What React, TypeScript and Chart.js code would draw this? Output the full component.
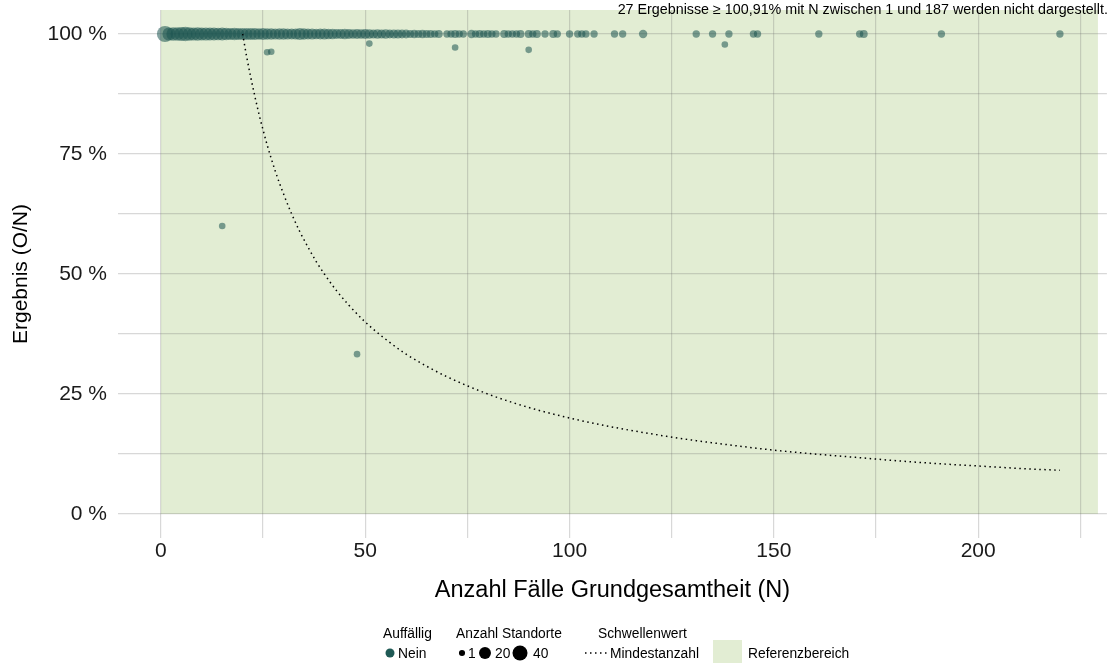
import React, { useEffect, useRef } from 'react';
import { Chart, registerables } from 'chart.js';

Chart.register(...registerables);

const FONT = '"Liberation Sans", Arial, Helvetica, sans-serif';

// Results at 100 %: N and number of sites (Anzahl Standorte)
const N_AT_100 = [
  1, 2, 3, 4, 5, 6, 7, 8, 9, 10, 11, 12, 13, 14, 15, 16, 17, 18, 19, 20,
  21, 22, 23, 24, 25, 26, 27, 28, 29, 30, 31, 32, 33, 34, 35, 36, 37, 38, 39, 40,
  41, 42, 43, 44, 45, 46, 47, 48, 49, 50, 51, 52, 53, 54, 55, 56, 57, 58, 59, 60,
  61, 62, 63, 64, 65, 66, 67, 68, 70, 71, 72, 73, 74, 76, 77, 78, 79, 80, 81, 82,
  84, 85, 86, 87, 88, 90, 91, 92, 94, 96, 97, 100, 102, 103, 104, 106, 111, 113, 118,
  131, 135, 139, 145, 146, 161, 171, 172, 191, 220,
];
const COUNT_AT_100 = [
  40, 22, 24, 23, 25, 28, 24, 22, 23, 21, 22, 20, 21, 19, 20, 18, 17, 18, 16, 17,
  15, 16, 15, 14, 15, 13, 14, 12, 13, 14, 12, 11, 12, 16, 13, 11, 12, 10, 11, 12,
  10, 10, 8, 9, 10, 8, 7, 8, 7, 9, 7, 6, 7, 6, 7, 5, 6, 6, 5, 5,
  3, 4, 3, 4, 3, 3, 2, 3, 2, 2, 3, 2, 2, 4, 2, 3, 2, 3, 2, 2,
  3, 2, 2, 2, 3, 3, 2, 3, 2, 3, 2, 2, 2, 2, 2, 2, 2, 2, 4,
  2, 2, 2, 2, 2, 2, 2, 3, 2, 2,
];

// Results below 100 %
const N_BELOW = [15, 48, 26, 27, 51, 72, 90, 138];
const RESULT_BELOW = [60.0, 33.3, 96.2, 96.3, 98.0, 97.2, 96.7, 97.8];
const COUNT_BELOW = [1, 1, 1, 1, 1, 1, 1, 1];

// Schwellenwert: Mindestanzahl
const THRESHOLD_N = [
  20, 21, 22, 23, 24, 25, 26, 28, 30, 32, 34, 36, 38, 40, 43, 46, 50, 55, 60, 65,
  70, 80, 90, 100, 110, 120, 130, 140, 150, 160, 170, 180, 190, 200, 210, 220,
];
const THRESHOLD_RESULT = [
  100, 95.2, 90.9, 87.0, 83.3, 80.0, 76.9, 71.4, 66.7, 62.5, 58.8, 55.6, 52.6, 50.0, 46.5, 43.5, 40.0, 36.4, 33.3, 30.8,
  28.6, 25.0, 22.2, 20.0, 18.2, 16.7, 15.4, 14.3, 13.3, 12.5, 11.8, 11.1, 10.5, 10.0, 9.5, 9.1,
];

// Referenzbereich
const REF_X = [0, 229.3];
const REF_Y = [0, 105];

const X_TICKS = [0, 25, 50, 75, 100, 125, 150, 175, 200, 225];
const X_LABELLED = [0, 50, 100, 150, 200];
const Y_TICKS = [0, 12.5, 25, 37.5, 50, 62.5, 75, 87.5, 100];
const Y_LABELLED = [0, 25, 50, 75, 100];

const X_LIMITS = [-10.5, 231.5];
const Y_LIMITS = [-5, 105];

const LEGEND_SIZES = [1, 20, 40];
const ANNOTATION = '27 Ergebnisse \u2265 100,91% mit N zwischen 1 und 187 werden nicht dargestellt.';

const POINT_COLOR = 'rgba(27, 83, 80, 0.55)';
const REF_COLOR = '#e2edd3';
const GRID_COLOR = 'rgba(110, 110, 110, 0.27)';

const radiusFor = (c: number) => 2.4 + 0.9 * Math.sqrt(c);

const refAreaPlugin = {
  id: 'refArea',
  beforeDraw(chart: any) {
    const { ctx, scales } = chart;
    const x = scales.x, y = scales.y;
    const x0 = x.getPixelForValue(REF_X[0]);
    const x1 = x.getPixelForValue(REF_X[1]);
    const y0 = y.getPixelForValue(REF_Y[1]);
    const y1 = y.getPixelForValue(REF_Y[0]);
    ctx.save();
    ctx.fillStyle = REF_COLOR;
    ctx.fillRect(x0, y0, x1 - x0, y1 - y0);
    ctx.restore();
  },
};

const overlayPlugin = {
  id: 'overlay',
  afterDraw(chart: any) {
    const { ctx, chartArea } = chart;
    ctx.save();
    // annotation
    ctx.fillStyle = '#000';
    ctx.font = `14.3px ${FONT}`;
    ctx.textAlign = 'right';
    ctx.textBaseline = 'alphabetic';
    ctx.fillText(ANNOTATION, chartArea.right + 1, 14);

    // legend
    ctx.font = `13.8px ${FONT}`;
    ctx.textAlign = 'left';
    const titleY = 638;
    const itemY = 658;
    const midY = 653;
    ctx.fillText('Auffällig', 383, titleY);
    ctx.fillText('Anzahl Standorte', 456, titleY);
    ctx.fillText('Schwellenwert', 598, titleY);

    ctx.fillStyle = '#1f5a55';
    ctx.beginPath();
    ctx.arc(390, midY, 4.5, 0, Math.PI * 2);
    ctx.fill();
    ctx.fillStyle = '#000';
    ctx.fillText('Nein', 398, itemY);

    const sizeX = [462, 485, 520];
    const labelX = [468, 495, 533];
    LEGEND_SIZES.forEach((s, i) => {
      ctx.fillStyle = '#000';
      ctx.beginPath();
      ctx.arc(sizeX[i], midY, radiusFor(s) * 0.93, 0, Math.PI * 2);
      ctx.fill();
      ctx.fillText(String(s), labelX[i], itemY);
    });

    ctx.strokeStyle = '#000';
    ctx.lineWidth = 1.5;
    ctx.setLineDash([1.5, 3.5]);
    ctx.beginPath();
    ctx.moveTo(585, midY);
    ctx.lineTo(610, midY);
    ctx.stroke();
    ctx.setLineDash([]);
    ctx.fillText('Mindestanzahl', 610, itemY);

    ctx.fillStyle = REF_COLOR;
    ctx.fillRect(713, 640, 29, 23);
    ctx.fillStyle = '#000';
    ctx.fillText('Referenzbereich', 748, itemY);
    ctx.restore();
  },
};

export default function App() {
  const canvasRef = useRef<HTMLCanvasElement | null>(null);

  useEffect(() => {
    if (!canvasRef.current) return;
    const points = [
      ...N_AT_100.map((n, i) => ({ x: n, y: 100, c: COUNT_AT_100[i] })),
      ...N_BELOW.map((n, i) => ({ x: n, y: RESULT_BELOW[i], c: COUNT_BELOW[i] })),
    ];
    const line = THRESHOLD_N.map((n, i) => ({ x: n, y: THRESHOLD_RESULT[i] }));

    const chart = new Chart(canvasRef.current, {
      type: 'scatter',
      data: {
        datasets: [
          {
            type: 'line',
            label: 'Mindestanzahl',
            data: line,
            borderColor: '#000',
            borderWidth: 1.5,
            borderDash: [1.5, 3.5],
            pointRadius: 0,
            fill: false,
            cubicInterpolationMode: 'monotone',
          } as any,
          {
            label: 'Nein',
            data: points as any,
            backgroundColor: POINT_COLOR,
            borderWidth: 0,
            pointRadius: (ctx: any) => radiusFor(ctx.raw ? ctx.raw.c : 1),
          } as any,
        ],
      },
      options: {
        responsive: false,
        animation: false,
        devicePixelRatio: 1,
        layout: { padding: { left: 0, right: 5, top: 10, bottom: 55 } },
        plugins: {
          legend: { display: false },
          tooltip: { enabled: false },
        },
        scales: {
          x: {
            type: 'linear',
            min: X_LIMITS[0],
            max: X_LIMITS[1],
            afterBuildTicks: (s: any) => {
              s.ticks = X_TICKS.map((v) => ({ value: v }));
            },
            afterFit: (s: any) => {
              s.height = 70;
              s.paddingLeft = 0;
              s.paddingRight = 0;
              s.paddingTop = 0;
              s.paddingBottom = 0;
            },
            ticks: {
              autoSkip: false,
              maxRotation: 0,
              padding: 1,
              color: '#1a1a1a',
              font: { family: FONT, size: 21 },
              callback: (v: any) => (X_LABELLED.includes(Number(v)) ? String(v) : ''),
            },
            grid: { color: GRID_COLOR, lineWidth: 1.2, drawTicks: false },
            border: { display: false },
            title: {
              display: true,
              text: 'Anzahl Fälle Grundgesamtheit (N)',
              color: '#000',
              font: { family: FONT, size: 23.5 },
              padding: { top: 3, bottom: 3 },
            },
          },
          y: {
            type: 'linear',
            min: Y_LIMITS[0],
            max: Y_LIMITS[1],
            afterBuildTicks: (s: any) => {
              s.ticks = Y_TICKS.map((v) => ({ value: v }));
            },
            afterFit: (s: any) => {
              s.width = 118;
              s.paddingLeft = 0;
              s.paddingRight = 0;
              s.paddingTop = 0;
              s.paddingBottom = 0;
            },
            ticks: {
              autoSkip: false,
              padding: 11,
              color: '#1a1a1a',
              font: { family: FONT, size: 21 },
              callback: (v: any) => (Y_LABELLED.includes(Number(v)) ? `${v} %` : ''),
            },
            grid: { color: GRID_COLOR, lineWidth: 1.2, drawTicks: false },
            border: { display: false },
            title: {
              display: true,
              text: 'Ergebnis (O/N)',
              color: '#000',
              font: { family: FONT, size: 21 },
              padding: { top: 9, bottom: 9 },
            },
          },
        },
      },
      plugins: [refAreaPlugin, overlayPlugin],
    } as any);

    return () => chart.destroy();
  }, []);

  return (
    <div style={{ position: 'absolute', left: 0, top: 0, width: 1115, height: 663, background: '#fff' }}>
      <canvas ref={canvasRef} width={1115} height={663} style={{ width: 1115, height: 663, display: 'block' }} />
    </div>
  );
}
